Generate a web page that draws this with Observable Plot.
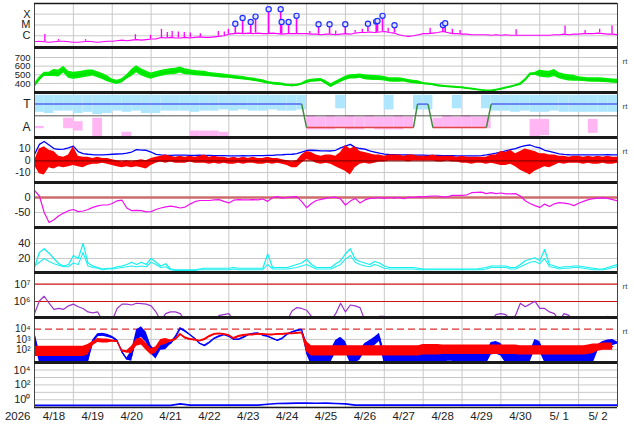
<!DOCTYPE html>
<html><head><meta charset="utf-8">
<script src="https://cdn.jsdelivr.net/npm/d3@7"></script>
<script src="https://cdn.jsdelivr.net/npm/@observablehq/plot@0.6"></script>
<style>
body{margin:0;background:#fff;}
#chart{position:relative;width:634px;height:424px;overflow:hidden;background:#fff;}
#chart svg{position:absolute;left:0;}
</style></head><body><div id="chart"></div>
<script>
// ---- time base: samples every 3 h (index i) or 6 h (index k) from 2026-04-18 00:00 UTC
const START = Date.UTC(2026, 3, 18), END = Date.UTC(2026, 4, 3), HOUR = 3600e3;
const at = h => new Date(START + h * HOUR);
const yearLabel = "2026";

// ---- Panel 1: X-ray flux (log10 W/m2), 3-hourly background + spikes + flares
const xrayBase = [-6.55,-6.5,-6.55,-6.6,-6.55,-6.5,-6.5,-6.55,-6.6,-6.6,-6.55,-6.5,-6.55,-6.6,-6.55,-6.5,-6.5,-6.45,
 -6.4,-6.45,-6.4,-6.35,-6.4,-6.35,-6.3,-6.3,
 -6.15,-6.2,-6.15,-6.2,-6.2,-6.15,-6.2,-6.15,-6.1,-6.15,-6.15,-6.1,-6.05,-6.0,
 -5.85,-5.8,-5.75,-5.8,-5.75,-5.8,-5.75,-5.8,-5.8,-5.75,-5.8,-5.85,-5.8,-5.8,-5.8,-5.8,
 -5.8,-5.85,-5.85,-5.9,-5.85,-5.85,-5.9,-5.85,-5.8,-5.85,
 -5.75,-5.7,-5.7,-5.65,-5.7,-5.65,-5.6,-5.7,-5.75,
 -5.9,-6.0,-6.05,-6.0,-5.9,
 -5.8,-5.8,-5.75,-5.7,-5.6,-5.7,
 -5.8,-5.8,-5.85,-5.85,-5.9,-5.9,-5.9,-5.9,-5.95,-5.9,
 -5.95,-5.9,-5.95,-5.95,-5.95,-5.95,-5.95,-5.95,-5.95,-5.95,
 -5.95,-5.9,-5.9,-5.85,-5.9,-5.85,-5.85,-5.8,-5.8,-5.8,-5.75,-5.8,-5.85,-5.85,-5.9];
const spikeHours = [6.4,14.8,31.5,62.3,71.6,78.4,82,85,88.8,92.5,96.2,102.4,113.5,117.2,119.7,170,186,198,202.4,218.4,244.3,258,262.8,297.4,327.6,340,349,356.6];
const spikePeaks = [-5.87,-6.35,-6.35,-5.9,-5.95,-5.4,-5.7,-5.6,-5.65,-5.7,-5.75,-5.8,-5.6,-5.65,-5.4,-5.6,-5.55,-5.5,-5.4,-5.3,-5.3,-5.4,-5.5,-5.45,-5.1,-5.5,-5.4,-5.1];
const flareHours = [124.0,128.5,133.5,136.5,144.6,152.0,152.6,156.9,161.8,175.4,182.2,191.9,205.9,211.0,211.8,214.9,222.3,252.2,253.6];
const flarePeaks = [-4.88,-4.35,-4.72,-4.23,-3.54,-3.54,-4.72,-4.72,-4.16,-4.93,-4.93,-4.93,-4.88,-4.69,-4.63,-4.16,-5.03,-5.0,-4.84];

// ---- Panel 2: solar wind speed (km/s), 3-hourly; spread every 12 h
const speed = [375,450,505,505,520,515,560,500,490,495,
 505,515,520,500,480,455,428,412,430,475,
 520,565,530,505,485,500,515,527,535,540,
 555,535,527,520,515,510,503,497,490,485,
 480,472,465,460,452,445,435,425,410,400,
 395,390,380,375,380,395,418,432,436,440,
 410,375,405,432,458,477,478,485,472,466,
 463,462,455,442,440,440,438,425,418,412,
 400,395,388,375,370,365,360,356,352,344,
 338,330,324,318,316,325,336,350,362,378,
 393,440,505,512,515,505,502,520,490,475,
 465,460,452,448,442,440,440,437,433,428,425];
const speedSpread = [25,40,40,35,25,40,35,35,30,25,20,18,15,12,18,22,25,28,25,20,12,10,10,8,8,15,40,35,25,25,25];

// ---- Panel 3: IMF sector (T = +1, A = -1)
const sectorHours = [0,165,168,234,236.5,243,246,279,282,360];
const sectorVals  = [1,1,-1,-1,1,1,-1,-1,1,1];
const blueLo = [0.3,0.2,0.4,0.4,0.2,0.3,0.1,0.2,0.4,0.3,
 0.4,0.2,0.2,0.4,0.4,0.4,0.3,0.4,0.4,0.5,
 0.4,0.5,0.4,0.4,0.5,0.4,0.4,0.5,null,null,
 null,0.6,null,null,null,null,0.5,null,null,0.5,
 0.5,null,null,0.6,null,null,0.6,0.4,0.4,0.3,
 0.4,0.3,0.3,0.4,0.3,0.3,0.3,0.3,0.3,0.3,0.3];
const pinkHi = [-0.9,null,null,-0.2,-0.5,null,-0.2,null,null,-1.4,
 null,null,null,null,null,null,-1.3,-1.3,-1.3,-1.4,
 null,null,null,null,null,null,null,null,0.0,-0.1,
 0.0,-0.1,0.0,-0.1,0.0,-0.1,-0.1,0.0,-0.1,null,
 null,-0.2,0.0,-0.1,0.0,-0.1,-0.1,null,null,null,
 null,-0.3,-0.3,null,null,null,null,-0.3,null,null,null];
const pinkLo = [-1.1,null,null,-1.1,-1.3,null,-1.8,null,null,-1.85,
 null,null,null,null,null,null,-1.85,-1.85,-1.85,-1.85,
 null,null,null,null,null,null,null,null,-1.2,-1.2,
 -1.2,-1.1,-1.2,-1.2,-1.1,-1.2,-1.2,-1.2,-1.1,null,
 null,-1.1,-1.1,-1.1,-1.1,-1.1,-1.1,null,null,null,
 null,-1.8,-1.7,null,null,null,null,-1.5,null,null,null];

// ---- Panel 4: IMF Bt and Bz (nT), 3-hourly
const bt = [5.5,14,16.5,13.5,10.5,9.8,10,11,12.5,7.8,
 6.2,5.6,5.2,5,5,5.3,5.6,5.8,6,6.5,
 7.5,9.5,9.2,9,7.5,5.5,5,4.8,4.7,4.8,
 4.9,4.8,4.6,4.7,4.8,4.7,4.6,4.5,4.5,4.4,
 4.3,4.3,4.3,4.4,4.3,4.4,4.5,4.5,4.6,4.7,
 5,5.2,5.5,5.6,6.2,7.5,8.8,9,8.8,8.5,
 8.5,8.4,9,11,12.6,14,11.5,10.5,10,8.5,
 7.5,6.5,5.8,5.4,5.2,5,5,5,4.9,4.8,
 4.8,4.7,4.6,4.6,4.5,4.5,4.4,4.3,4.3,4.2,
 4.2,4.3,4.5,5,5.8,6.5,7.5,8.5,9.5,10.5,
 11.8,13,13.5,12,11,9,8,7,6,5.5,
 5.2,5,5,5,5,5,5,5.1,5.2,5,5];
const bzHi = [0,10,12,9,8,4,3,5,12,4,
 3,3,2,3,2,2,1,0,-1,0,
 -1,0,1,0,2,3,4,5,4,3,
 4,3,4,3,4,5,3,4,3,3,
 2,3,2,3,2,3,2,2,3,2,
 2,1,0,-1,0,5,8,7,5,4,
 5,5,4,7,13,10,12,8,7,6,
 5,5,4,5,5,5,4,5,5,4,
 4,4,5,4,4,4,4,3,4,3,
 3,3,3,3,5,5,8,7,9,6,
 8,10,9,8,6,6,5,5,4,4,
 3,4,4,3,4,3,4,3,4,3,3];
const bzLo = [-4,-11,-12,-6,-7,-5,-6,-5,-4,-5,
 -6,-4,-3,-3,-2,-3,-4,-5,-6,-5,
 -6,-5,-6,-7,-4,-2,-1,-2,-1,-2,
 -2,-2,-1,-2,-2,-2,-3,-2,-3,-2,
 -3,-3,-2,-3,-2,-2,-3,-3,-2,-3,
 -2,-3,-4,-6,-6,-2,1,0,-2,-3,
 -2,-3,-5,-7,-9,-12,-6,-3,-2,-3,
 -2,-1,-1,0,0,0,0,-1,0,0,
 0,0,0,-1,-1,0,-1,-1,-2,-2,
 -3,-2,-2,-3,-2,-3,-4,-4,-3,-5,
 -8,-10,-12,-9,-7,-5,-6,-4,-2,-3,
 -2,-2,-2,-3,-2,-3,-3,-2,-3,-3,-2];

// ---- Panel 5: Dst (nT), 3-hourly
const dst = [24,5,-50,-83,-74,-61,-52,-44,-40,-47,
 -45,-40,-33,-28,-25,-25,-20,-11,-9,-35,
 -44,-43,-44,-48,-47,-40,-35,-31,-29,-31,
 -35,-32,-22,-14,-10,-10,-10,-8,-7,-13,
 -18,-9,-7,-8,-8,-7,-8,-5,-13,0,
 3,-2,0,2,3,-14,-34,-20,-10,-6,
 -3,0,1,-5,-25,-12,-3,-18,-8,-3,
 -2,0,-3,0,-2,0,-4,1,0,3,
 2,4,5,5,2,2,7,7,7,9,
 16,17,18,13,16,13,15,12,12,13,
 5,-11,-20,-27,-33,-22,-30,-21,-17,-19,
 -21,-27,-19,-13,-7,-4,-2,-1,-3,-7,-11];

// ---- Panel 6: two cyan series, 3-hourly
const cyanA = [8,28,33,27,20,13,10,12,24,20,
 40,14,10,8,6,7,7,9,10,12,
 15,12,15,12,20,15,10,13,6,5,
 5,5,5,5,6,7,7,7,7,7,
 7,8,7,7,7,7,7,7,26,8,
 8,8,8,10,12,14,19,12,8,8,
 8,8,13,17,26,33,19,16,14,12,
 16,14,10,8,8,8,8,8,8,7,
 6,6,6,6,6,6,6,6,6,6,
 6,6,7,8,10,10,10,10,8,8,
 12,17,19,21,17,32,12,10,8,9,
 9,10,10,9,8,7,6,6,8,10,12];
const cyanB = [10,15,20,16,13,11,9,9,14,12,
 28,10,8,7,5,6,6,7,8,9,
 10,9,10,9,15,12,8,9,5,4,
 4,4,4,4,5,5,5,5,5,5,
 5,6,5,5,5,5,5,5,12,6,
 6,6,6,7,8,10,12,9,6,6,
 6,6,9,12,19,24,15,12,10,9,
 12,10,7,6,6,6,6,6,6,5,
 5,5,5,5,5,5,5,5,5,5,
 5,5,5,6,8,8,8,8,6,6,
 9,12,15,16,13,20,9,8,6,7,
 7,8,8,7,6,5,5,5,6,8,9];

// ---- Panel 7: purple flux (log10), 3-hourly
const purple = [5.3,6.03,6.3,5.9,5.55,5.6,5.55,5.75,5.85,5.7,
 5.6,5.4,5.35,5.4,4.9,4.9,4.9,5.6,5.85,5.85,
 5.8,5.9,5.88,5.85,5.75,5.4,4.9,5.3,5.4,5.4,
 5.3,4.9,4.9,4.9,4.9,4.9,4.9,4.9,5.2,5.25,
 5.3,4.9,4.9,4.9,4.9,4.9,4.9,4.9,4.9,4.9,
 4.9,4.9,4.9,5.45,5.65,5.6,5.5,5.15,4.9,4.9,
 4.9,4.9,5.3,5.9,5.4,5.8,5.75,5.65,4.9,4.9,
 4.9,5.15,5.15,4.9,4.9,4.9,4.9,4.9,4.9,4.9,
 4.9,4.9,4.9,4.9,4.9,4.9,4.9,4.9,4.9,4.9,
 4.9,4.9,4.9,4.9,4.9,5.25,5.3,5.25,4.9,5.2,
 5.9,5.7,5.85,6.02,5.6,5.6,5.4,5.3,4.9,5.3,
 5.2,4.9,4.9,4.9,4.9,4.9,4.9,4.9,5.15,4.9,4.9];

// ---- Panel 8: blue and red flux (log10), 3-hourly; noise half-range every 12 h
const blue8 = [3.3,1.3,1.1,1.1,1.1,1.1,1.1,1.1,1.1,1.1,1.1,1.1,
 2.8,3.4,3.45,3.35,3.2,2.9,1.8,1.1,1.4,
 3.4,3.72,3.2,2.0,1.5,2.35,2.4,2.6,3.2,4.05,
 3.8,3.45,3.1,2.6,2.4,2.7,3.1,3.3,3.45,3.3,
 3.0,3.0,3.2,3.45,3.55,3.6,3.4,3.3,3.1,2.9,
 3.1,3.5,3.7,3.85,3.95,2.2,
 1.1,1.1,1.1,1.1, 1.4,2.3,2.6,2.3, 1.2,1.2,1.5, 2.2,2.5,2.8,3.2,
 1.2,1.2,1.2,1.2,1.2,1.2,1.2,1.2,1.2,1.2,1.2,1.2,1.2, 1.5,1.5,
 1.2,1.2,1.2,1.2,1.2,1.2,1.2, 2.1,2.2,2.0, 1.3,1.3,1.3,1.3,1.3,1.3, 2.5,2.3,
 1.3,1.3,1.3,1.3,1.3,1.3,1.3,1.3,1.3,1.3,1.3, 2.2,2.5,2.65,2.7,2.65];
const blue8Noise = [0.5,0.6,0.6,0.15,0.1,0.5,0.4,0.1,0.05,0.05,0.05,0.05,0.05,0.05,0.6,0.6,0.5,0.4,0.6,0.6,0.6,0.6,0.6,0.6,0.6,0.5,0.5,0.6,0.6,0.3,0.1];
const red8 = [1.85,1.85,1.85,1.85,1.85,1.85,1.85,1.85,1.85,1.85,1.85,2.0,
 2.6,2.9,2.85,2.85,2.85,2.8,1.9,1.8,2.0,
 2.7,2.8,2.3,1.8,2.0,2.7,2.8,2.85,3.0,3.5,
 3.15,3.0,2.95,2.85,3.0,3.3,3.5,3.55,3.5,3.4,
 3.1,3.3,3.4,3.45,3.45,3.5,3.5,3.45,3.45,3.5,
 3.5,3.55,3.55,3.6,3.65,2.3,
 1.9,1.9,1.9,1.9,1.9,1.9,1.9,1.9,1.9,1.9,1.9,1.9,1.9,1.9,1.9,1.9,
 1.9,1.9,1.9,1.9,1.9,1.9,1.9,2.0,2.0,2.0,2.0,2.0,2.0,2.0,2.0,2.0,
 2.0,2.0,2.0,2.0,2.0,2.0,2.0,2.0,2.0,2.0,2.0,1.95,1.95,1.95,1.95,1.95,
 1.95,1.95,1.95,1.95,1.95,1.95,1.95,1.95,1.95,2.0,2.1,2.2,2.3,2.3,2.3];
const red8Noise = [0.5,0.5,0.5,0.2,0.1,0.35,0.3,0.1,0.08,0.08,0.08,0.08,0.08,0.08,0.5,0.5,0.5,0.5,0.5,0.5,0.5,0.45,0.45,0.45,0.45,0.45,0.45,0.45,0.45,0.35,0.25];

// ---- Panel 9: blue flux (log10), 6-hourly
const blue9 = [-0.75,-0.75,-0.75,-0.75,-0.75,-0.75,-0.75,-0.75,-0.75,-0.75,-0.75,-0.75,-0.75,-0.75,-0.75,
 -0.55,-0.72,-0.72,-0.72,-0.72,-0.72,-0.72,-0.72,-0.72,-0.6,
 -0.5,-0.48,-0.45,-0.45,-0.47,-0.45,-0.5,-0.55,
 -0.72,-0.72,-0.72,-0.72,-0.72,-0.72,-0.72,-0.72,-0.72,-0.72,-0.72,-0.72,-0.72,-0.72,
 -0.72,-0.72,-0.72,-0.72,-0.72,-0.72,-0.72,-0.72,-0.72,-0.72,-0.72,-0.72,-0.72,-0.72];

// ---- layout
const TOPS = [2.7, 46.7, 91.7, 136.7, 181.7, 226.7, 271.7, 316.7, 361.7];
const HEIGHTS = [44, 45, 45, 45, 45, 45, 45, 45, 45];
const FONT = '"Liberation Sans", Arial, sans-serif';
const dayLines = d3.utcDay.range(new Date(START + 24 * HOUR), new Date(END));
const noons = d3.utcDay.range(new Date(START), new Date(END)).map(d => d3.utcHour.offset(d, 12));
const fmtDay = d => `${d.getUTCMonth() + 1}/${String(d.getUTCDate()).padStart(2, " ")}`;
const SUP = {"-1":"⁻¹",0:"⁰",1:"¹",2:"²",3:"³",4:"⁴",5:"⁵",6:"⁶",7:"⁷"};
const pow = d => "10" + SUP[Math.round(Math.log10(d))];
const t3 = (d, i) => at(i * 3);
const t6 = (d, i) => at(i * 6);
const GRID = "#c8c8c8";

const chart = document.getElementById("chart");

function panel(idx, {y, ticks, fmt, grid = [], marks, rt = false, labelSize = 11}) {
  const height = HEIGHTS[idx];
  const last = idx === 8;
  const mb = last ? 18 : 0;
  const frame = [
    Plot.ruleX([new Date(START), new Date(END)], {stroke: "#444", strokeWidth: 1}),
    Plot.ruleY([y.domain[1]], {stroke: "#1a1a1a", strokeWidth: idx === 0 ? 1.3 : 3})
  ];
  if (last) frame.push(Plot.ruleY([y.domain[0]], {stroke: "#1a1a1a", strokeWidth: 1.5}));
  const extra = [];
  if (rt) extra.push(Plot.text(["rt"], {frameAnchor: "top-right", dx: 5, dy: 10.5, textAnchor: "start", fontSize: 8, fill: "#444"}));
  if (last) {
    extra.push(Plot.axisX({ticks: noons, tickFormat: fmtDay, tickSize: 0, tickPadding: 4, fontSize: 11.5, label: null}));
    extra.push(Plot.text([yearLabel], {x: () => new Date(START), text: d => d, frameAnchor: "bottom", lineAnchor: "top", dy: 4, dx: -4, textAnchor: "end", fontSize: 11.5}));
  }
  const svg = Plot.plot({
    width: 634, height: height + mb,
    marginLeft: 34, marginRight: 17, marginTop: 0, marginBottom: mb,
    style: {overflow: "visible", background: "transparent", fontFamily: FONT, color: "#222"},
    x: {type: "utc", domain: [new Date(START), new Date(END)], axis: null},
    y: {...y, axis: null},
    marks: [
      Plot.gridX({ticks: dayLines, stroke: GRID, strokeOpacity: 1}),
      grid.length ? Plot.gridY({ticks: grid, stroke: GRID, strokeOpacity: 1}) : null,
      ...marks,
      ...frame,
      Plot.axisY({ticks, tickFormat: fmt, tickSize: 0, tickPadding: 4, fontSize: labelSize, label: null}),
      ...extra
    ]
  });
  svg.style.top = TOPS[idx] + "px";
  chart.append(svg);
}

// Panel 1: X-ray
const xrayLabel = {"-4": "X", "-5": "M", "-6": "C"};
panel(0, {
  y: {type: "log", domain: [10 ** -7.08, 10 ** -3.02]},
  ticks: [1e-4, 1e-5, 1e-6], fmt: d => xrayLabel[Math.round(Math.log10(d))], labelSize: 11,
  grid: [1e-4, 1e-5, 1e-6],
  marks: [
    Plot.lineY(xrayBase, {x: t3, y: d => 10 ** d, stroke: "#ff00ff", strokeWidth: 1.1, clip: true}),
    Plot.ruleX(spikeHours, {x: h => at(h), y1: h => 10 ** xrayBase[Math.round(h / 3)], y2: (h, i) => 10 ** spikePeaks[i], stroke: "#ff00ff", strokeWidth: 1.3, clip: true}),
    Plot.ruleX(flareHours, {x: h => at(h), y1: h => 10 ** xrayBase[Math.round(h / 3)], y2: (h, i) => 10 ** flarePeaks[i], stroke: "#ff00ff", strokeWidth: 1.6, clip: true}),
    Plot.dot(flareHours, {x: h => at(h), y: (h, i) => 10 ** flarePeaks[i], r: 2.6, fill: "#dfe3ff", stroke: "#1f2fff", strokeWidth: 1.2})
  ]
});

// Panel 2: solar wind speed
panel(1, {
  y: {type: "linear", domain: [296, 815]},
  ticks: [700, 600, 500, 400], fmt: d => String(d), grid: [400, 500, 600, 700], rt: true, labelSize: 9.5,
  marks: [
    Plot.areaY(speed, {x: t3, y1: (d, i) => d - speedSpread[i >> 2], y2: (d, i) => d + speedSpread[i >> 2], fill: "#00ee00", clip: true}),
    Plot.lineY(speed, {x: t3, y: d => d, stroke: "#00dd00", strokeWidth: 1.3, clip: true})
  ]
});

// Panel 3: sector
const blueRects = blueLo.flatMap((lo, k) => lo == null ? [] : [{x1: at(k * 6), x2: at(k * 6 + 6), y1: lo, y2: 1.75}]);
const pinkRects = pinkHi.flatMap((hi, k) => hi == null ? [] : [{x1: at(k * 6), x2: at(k * 6 + 6), y1: pinkLo[k], y2: hi}]);
const sectorPts = sectorHours.map((h, i) => ({t: at(h), v: sectorVals[i]}));
const segs = d3.pairs(sectorPts);
const segMark = (filter, stroke) => Plot.link(segs.filter(filter), {x1: s => s[0].t, y1: s => s[0].v, x2: s => s[1].t, y2: s => s[1].v, stroke, strokeWidth: 1.5, clip: true});
panel(2, {
  y: {type: "linear", domain: [-1.85, 1.99]},
  ticks: [1, -1], fmt: d => d > 0 ? "T" : "A", labelSize: 12, rt: true,
  marks: [
    Plot.rect(blueRects, {x1: "x1", x2: "x2", y1: "y1", y2: "y2", fill: "#aee6ff", clip: true}),
    Plot.rect(pinkRects, {x1: "x1", x2: "x2", y1: "y1", y2: "y2", fill: "#ffb6f2", clip: true}),
    Plot.ruleY([0], {stroke: "#555", strokeWidth: 1}),
    segMark(([a, b]) => a.v === 1 && b.v === 1, "#5566ee"),
    segMark(([a, b]) => a.v === -1 && b.v === -1, "#e04848"),
    segMark(([a, b]) => a.v !== b.v, "#3f8a3f")
  ]
});

// Panel 4: Bt / Bz
panel(3, {
  y: {type: "linear", domain: [-18.5, 19.9]},
  ticks: [10, 0, -10], fmt: d => String(d), grid: [10, -10], rt: true, labelSize: 10.5,
  marks: [
    Plot.lineY(bt, {x: t3, y: d => d, stroke: "#0000ff", strokeWidth: 1.3, clip: true}),
    Plot.areaY(bzHi, {x: t3, y1: (d, i) => bzLo[i], y2: d => d, fill: "#ff0000", clip: true}),
    Plot.ruleY([0], {stroke: "#8b0000", strokeWidth: 1.3})
  ]
});

// Panel 5: Dst
panel(4, {
  y: {type: "linear", domain: [-100, 50]},
  ticks: [0, -50], fmt: d => String(d), grid: [-50],
  marks: [
    Plot.ruleY([0], {stroke: "#cd6b6b", strokeWidth: 2.5}),
    Plot.lineY(dst, {x: t3, y: d => d, stroke: "#f010f0", strokeWidth: 1.2, clip: true})
  ]
});

// Panel 6: cyan pair
panel(5, {
  y: {type: "linear", domain: [1.3, 61.3]},
  ticks: [40, 20], fmt: d => String(d), grid: [20, 40],
  marks: [
    Plot.lineY(cyanB, {x: t3, y: d => d, stroke: "#22eeee", strokeWidth: 1.1, clip: true}),
    Plot.lineY(cyanA, {x: t3, y: d => d, stroke: "#11f0f0", strokeWidth: 1.2, clip: true})
  ]
});

// Panel 7: purple
panel(6, {
  y: {type: "log", domain: [10 ** 5.08, 10 ** 7.667]},
  ticks: [1e7, 1e6], fmt: pow, rt: true,
  marks: [
    Plot.ruleY([1e7, 1e6], {stroke: "#cc1111", strokeWidth: 1.1}),
    Plot.lineY(purple, {x: t3, y: d => 10 ** d, stroke: "#9933cc", strokeWidth: 1.2, clip: true})
  ]
});

// Panel 8: blue / red
panel(7, {
  y: {type: "log", domain: [10 ** 0.77, 10 ** 5.12]},
  ticks: [1e4, 1e3, 1e2], fmt: pow, grid: [1e3, 1e2], rt: true, labelSize: 10,
  marks: [
    Plot.ruleY([1e4], {stroke: "#e03030", strokeWidth: 1.3, strokeDasharray: "7,4"}),
    Plot.areaY(blue8, {x: t3, y1: (d, i) => 10 ** (d - blue8Noise[i >> 2]), y2: (d, i) => 10 ** (d + blue8Noise[i >> 2]), fill: "#0000ff", clip: true}),
    Plot.lineY(blue8, {x: t3, y: d => 10 ** d, stroke: "#0000ff", strokeWidth: 1.2, clip: true}),
    Plot.areaY(red8, {x: t3, y1: (d, i) => 10 ** (d - red8Noise[i >> 2]), y2: (d, i) => 10 ** (d + red8Noise[i >> 2]), fill: "#ff0000", clip: true}),
    Plot.lineY(red8, {x: t3, y: d => 10 ** d, stroke: "#ff0000", strokeWidth: 1.2, clip: true})
  ]
});

// Panel 9: blue low flux
panel(8, {
  y: {type: "log", domain: [10 ** -1.04, 10 ** 5.02]},
  ticks: [1e4, 1e2, 1e0], fmt: pow, grid: [1e-1, 1e0, 1e1, 1e2, 1e3, 1e4],
  marks: [
    Plot.lineY(blue9, {x: t6, y: d => 10 ** d, stroke: "#0000ff", strokeWidth: 1.6, clip: true})
  ]
});
</script></body></html>
